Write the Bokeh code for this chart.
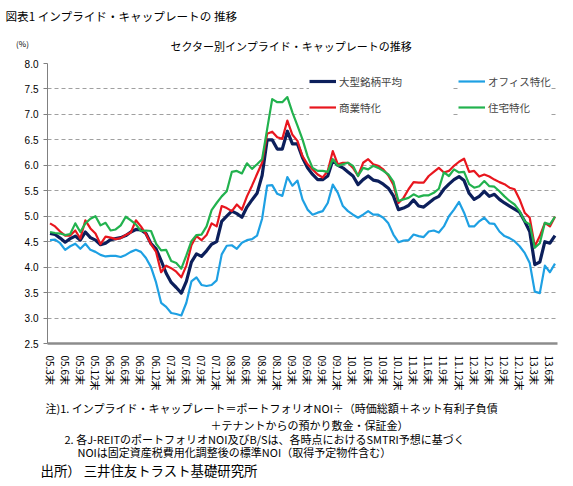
from bokeh.plotting import figure
from bokeh.layouts import column, row
from bokeh.models import Range1d, FixedTicker, Legend, LegendItem, NumeralTickFormatter
from bokeh.core.properties import value
from bokeh.embed import file_html
from bokeh.resources import INLINE

JP = "Noto Sans CJK JP"

# monthly categories 05.3 ... 13.7 (101 months); every 3rd is labelled
n_months = 101
x_idx = list(range(n_months))
tick_labels = ["05.3末", "05.6末", "05.9末", "05.12末", "06.3末", "06.6末", "06.9末", "06.12末",
               "07.3末", "07.6末", "07.9末", "07.12末", "08.3末", "08.6末", "08.9末", "08.12末",
               "09.3末", "09.6末", "09.9末", "09.12末", "10.3末", "10.6末", "10.9末", "10.12末",
               "11.3末", "11.6末", "11.9末", "11.12末", "12.3末", "12.6末", "12.9末", "12.12末",
               "13.3末", "13.6末"]
y_ticks = [2.5, 3.0, 3.5, 4.0, 4.5, 5.0, 5.5, 6.0, 6.5, 7.0, 7.5, 8.0]

large_avg = [4.66, 4.64, 4.57, 4.49, 4.56, 4.61, 4.53, 4.69, 4.58, 4.53,
             4.44, 4.47, 4.54, 4.56, 4.58, 4.62, 4.69, 4.74, 4.73, 4.66,
             4.46, 4.36, 4.13, 3.88, 3.70, 3.60, 3.49, 3.72, 4.10, 4.26,
             4.21, 4.32, 4.45, 4.50,
             4.90, 5.00, 5.10, 5.05, 4.98, 5.18, 5.32, 5.45, 5.80, 6.50,
             6.50, 6.32, 6.32, 6.67, 6.42, 6.42, 6.15, 5.95, 5.82, 5.72,
             5.72, 5.79, 6.10, 6.00, 5.95, 5.87, 5.79, 5.62, 5.72, 5.79,
             5.71, 5.69, 5.63, 5.55,
             5.40, 5.13, 5.16, 5.21, 5.32, 5.20, 5.18, 5.26, 5.34, 5.39,
             5.53, 5.63, 5.72, 5.78, 5.70, 5.45, 5.33, 5.39, 5.49, 5.39,
             5.43, 5.33, 5.26, 5.20, 5.14, 5.08, 4.90, 4.70, 4.05, 4.10,
             4.50, 4.47, 4.62]
office = [4.53, 4.54, 4.47, 4.34, 4.41, 4.46, 4.36, 4.46, 4.34, 4.30,
          4.24, 4.21, 4.22, 4.22, 4.20, 4.24, 4.30, 4.34, 4.30, 4.18,
          4.00, 3.70, 3.30, 3.22, 3.10, 3.08, 3.05, 3.30, 3.72, 3.80,
          3.65, 3.63, 3.65, 3.74,
          4.25, 4.42, 4.43, 4.36, 4.48, 4.53, 4.55, 4.62, 4.95, 5.60,
          5.61, 5.44, 5.40, 5.77, 5.60, 5.70, 5.33, 5.13, 5.03, 5.07,
          5.10, 5.26, 5.62, 5.46, 5.20, 5.10, 5.03, 4.97, 5.03, 5.10,
          5.03, 5.03, 4.97, 4.86,
          4.64, 4.49, 4.52, 4.53, 4.64, 4.61, 4.59, 4.70, 4.72, 4.68,
          4.80, 5.00, 5.13, 5.28, 5.07, 4.80, 4.80, 4.90, 4.97, 4.86,
          4.85, 4.70, 4.61, 4.57, 4.51, 4.41, 4.28, 4.08, 3.52, 3.49,
          4.03, 3.90, 4.07]
retail = [4.86, 4.80, 4.70, 4.62, 4.62, 4.72, 4.56, 4.92, 4.76, 4.66,
          4.45, 4.60, 4.58, 4.55, 4.57, 4.63, 4.68, 4.92, 4.80, 4.65,
          4.45, 4.30, 3.90, 4.03, 3.98, 3.91, 3.80, 4.03, 4.43, 4.61,
          4.53, 4.63, 4.86, 4.80,
          5.20, 5.16, 5.10, 5.23, 5.13, 5.39, 5.60, 5.83, 6.05, 6.62,
          6.66, 6.55, 6.52, 6.88, 6.60, 6.48, 6.18, 6.02, 5.92, 5.82,
          5.76, 5.89, 6.28, 6.02, 6.05, 6.05, 5.95, 5.79, 6.05, 6.12,
          6.02, 5.99, 5.92, 5.80,
          5.62, 5.26, 5.36, 5.53, 5.67, 5.66, 5.66, 5.79, 5.87, 5.95,
          5.86, 5.89, 5.99, 6.07, 6.13, 5.87, 5.89, 5.78, 5.82, 5.78,
          5.72, 5.67, 5.63, 5.56, 5.53, 5.33, 5.07, 4.97, 4.41, 4.61,
          4.87, 4.80, 4.99]
residential = [4.69, 4.67, 4.66, 4.63, 4.65, 4.86, 4.69, 4.86, 4.95, 5.00,
               4.82, 4.87, 4.72, 4.74, 4.82, 4.99, 4.92, 4.84, 4.71, 4.72,
               4.71, 4.46, 4.33, 4.34, 4.12, 4.08, 3.97, 4.23, 4.51, 4.63,
               4.64, 4.80, 5.12, 5.26,
               5.39, 5.49, 5.87, 5.89, 5.84, 6.04, 5.93, 6.02, 6.12, 6.71,
               7.30, 7.24, 7.24, 7.34, 7.04, 6.78, 6.51, 6.18, 5.95, 5.89,
               5.89, 5.87, 6.12, 5.99, 6.02, 6.05, 5.99, 5.79, 5.95, 5.92,
               5.99, 5.95, 5.89, 5.82,
               5.68, 5.30, 5.33, 5.36, 5.43, 5.38, 5.41, 5.41, 5.46, 5.54,
               5.86, 5.79, 5.92, 5.86, 5.87, 5.63, 5.56, 5.59, 5.69, 5.59,
               5.58, 5.49, 5.39, 5.30, 5.23, 5.10, 4.90, 4.84, 4.38, 4.47,
               4.87, 4.84, 4.99]

series_names = ["大型銘柄平均", "オフィス特化", "商業特化", "住宅特化"]
series_colors = ["#0c1f5b", "#1ea0e3", "#e8161e", "#22b24e"]
series_widths = [3.2, 2.2, 2.2, 2.2]

heading = "図表1 インプライド・キャップレートの 推移"
chart_title = "セクター別インプライド・キャップレートの推移"
unit_label = "(%)"
notes = ["注)1. インプライド・キャップレート＝ポートフォリオNOI÷（時価総額＋ネット有利子負債",
         "＋テナントからの預かり敷金・保証金）",
         "2. 各J-REITのポートフォリオNOI及びB/Sは、各時点におけるSMTRI予想に基づく",
         "NOIは固定資産税費用化調整後の標準NOI（取得予定物件含む）"]
source = "出所） 三井住友トラスト基礎研究所"

W = 565


def text_fig(h):
    f = figure(width=W, height=h, output_backend="svg", toolbar_location=None,
               x_range=Range1d(0, W), y_range=Range1d(h, 0),
               x_axis_location=None, y_axis_location=None,
               min_border=0, min_border_left=0, min_border_right=0,
               min_border_top=0, min_border_bottom=0)
    f.grid.visible = False
    f.outline_line_color = None
    f.background_fill_color = "white"
    f.border_fill_color = "white"
    return f


def put(f, txt, x, y, size, align="left"):
    f.text(x=[x], y=[y], text=[txt], text_font=value(JP), text_font_size=value(size),
           text_align=align, text_baseline="middle", text_color="#000000")


# ---- header ----
head = text_fig(58)
put(head, heading, 5, 15, "11.6px")
put(head, chart_title, 291, 45, "11px", "center")
put(head, unit_label, 22, 43, "8px", "center")

# ---- main chart ----
p = figure(width=W, height=335, output_backend="svg", toolbar_location=None,
           x_range=Range1d(-0.5, n_months - 0.5), y_range=Range1d(2.5, 8.0),
           min_border_left=47, min_border_right=8, min_border_top=5, min_border_bottom=50)
p.outline_line_color = None
p.background_fill_color = "white"
p.border_fill_color = "white"
p.xgrid.visible = False
p.ygrid.grid_line_color = "#a0a0a0"
p.ygrid.grid_line_dash = "4 3"
p.ygrid.grid_line_width = 1

p.yaxis.ticker = FixedTicker(ticks=y_ticks)
p.yaxis.formatter = NumeralTickFormatter(format="0.0")
p.yaxis.axis_line_color = "#808080"
p.yaxis.major_tick_line_color = "#808080"
p.yaxis.major_tick_out = 4
p.yaxis.major_tick_in = 0
p.yaxis.minor_tick_line_color = None
p.yaxis.major_label_standoff = 5
p.yaxis.major_label_text_font = "Liberation Sans"
p.yaxis.major_label_text_font_size = "10px"
p.yaxis.major_label_text_color = "#000000"

p.xaxis.ticker = FixedTicker(ticks=[i * 3 for i in range(len(tick_labels))])
p.xaxis.major_label_overrides = {i * 3: lab for i, lab in enumerate(tick_labels)}
p.xaxis.major_label_orientation = "vertical"
p.xaxis.axis_line_color = "#8c8c8c"
p.xaxis.axis_line_width = 2.5
p.xaxis.major_tick_line_color = None
p.xaxis.minor_tick_line_color = None
p.xaxis.major_label_standoff = 6
p.xaxis.major_label_text_font = JP
p.xaxis.major_label_text_font_size = "10px"
p.xaxis.major_label_text_color = "#000000"

renderers = []
for ys, col, w in zip([large_avg, office, retail, residential], series_colors, series_widths):
    r = p.line(x_idx, ys, line_color=col, line_width=w, line_join="round")
    renderers.append(r)

common = dict(padding=4, spacing=8, glyph_width=27, glyph_height=18, label_height=18,
              label_standoff=3, background_fill_color="white", background_fill_alpha=1.0,
              border_line_color=None, label_text_font=JP, label_text_font_size="10.5px",
              margin=0)
legA = Legend(items=[LegendItem(label=series_names[0], renderers=[renderers[0]]),
                     LegendItem(label=series_names[2], renderers=[renderers[2]])],
              location=(262, 227), label_width=113, **common)
legB = Legend(items=[LegendItem(label=series_names[1], renderers=[renderers[1]]),
                     LegendItem(label=series_names[3], renderers=[renderers[3]])],
              location=(411, 227), label_width=60, **common)
p.add_layout(legA)
p.add_layout(legB)

# ---- footer ----
foot = text_fig(85)
put(foot, notes[0], 45, 14, "11px")
put(foot, notes[1], 210, 31, "11px")
put(foot, notes[2], 64, 45, "11px")
put(foot, notes[3], 77, 58, "11px")
put(foot, source, 40, 76, "13.4px")

# wrap each figure in its own row so that the plot frames are not aligned
layout = column(row(head), row(p), row(foot), spacing=0)
open("out.html", "w").write(file_html(layout, INLINE))
